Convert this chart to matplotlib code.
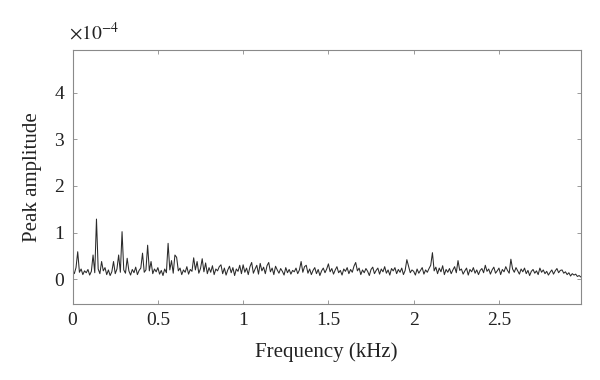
import numpy as np
import matplotlib
matplotlib.use("Agg")
import matplotlib.pyplot as plt

plt.rcParams['font.family'] = ['Liberation Serif', 'DejaVu Serif']
plt.rcParams['mathtext.fontset'] = 'stix'

# Peak amplitude (x 1e-4), one value per 0.01 kHz from 0 to 2.98 kHz
amplitude = [
    0.20, 0.12, 0.25, 0.59, 0.15, 0.22, 0.10, 0.18, 0.14, 0.21,
    0.09, 0.17, 0.52, 0.14, 1.29, 0.22, 0.12, 0.38, 0.18, 0.25,
    0.10, 0.20, 0.08, 0.16, 0.38, 0.12, 0.22, 0.52, 0.15, 1.02,
    0.20, 0.13, 0.45, 0.18, 0.09, 0.21, 0.14, 0.26, 0.10, 0.19,
    0.24, 0.56, 0.15, 0.20, 0.73, 0.18, 0.38, 0.12, 0.22, 0.16,
    0.25, 0.11, 0.19, 0.08, 0.22, 0.14, 0.77, 0.20, 0.40, 0.13,
    0.52, 0.47, 0.18, 0.24, 0.10, 0.20, 0.15, 0.27, 0.11, 0.21,
    0.17, 0.46, 0.20, 0.38, 0.13, 0.23, 0.44, 0.16, 0.35, 0.12,
    0.25, 0.15, 0.29, 0.10, 0.22, 0.18, 0.27, 0.31, 0.12, 0.24,
    0.09, 0.20, 0.28, 0.14, 0.25, 0.08, 0.22, 0.17, 0.30, 0.12,
    0.31, 0.15, 0.24, 0.10, 0.27, 0.36, 0.13, 0.22, 0.30, 0.11,
    0.34, 0.18, 0.26, 0.12, 0.29, 0.36, 0.16, 0.24, 0.10, 0.28,
    0.20, 0.13, 0.23, 0.17, 0.09, 0.25, 0.14, 0.21, 0.11, 0.19,
    0.16, 0.24, 0.12, 0.20, 0.38, 0.15, 0.27, 0.30, 0.13, 0.22,
    0.10, 0.19, 0.25, 0.12, 0.21, 0.08, 0.18, 0.24, 0.14, 0.22,
    0.33, 0.16, 0.23, 0.11, 0.20, 0.27, 0.14, 0.19, 0.09, 0.22,
    0.17, 0.25, 0.12, 0.21, 0.15, 0.28, 0.36, 0.18, 0.24, 0.10,
    0.20, 0.14, 0.23, 0.17, 0.08, 0.21, 0.26, 0.12, 0.19, 0.24,
    0.11, 0.22, 0.16, 0.27, 0.13, 0.20, 0.09, 0.23, 0.18, 0.25,
    0.12, 0.21, 0.15, 0.24, 0.10, 0.19, 0.42, 0.28, 0.14, 0.20,
    0.17, 0.09, 0.22, 0.13, 0.19, 0.25, 0.11, 0.20, 0.15, 0.23,
    0.30, 0.57, 0.18, 0.26, 0.12, 0.24, 0.16, 0.29, 0.10, 0.21,
    0.15, 0.23, 0.12, 0.20, 0.27, 0.14, 0.40, 0.19, 0.22, 0.11,
    0.18, 0.24, 0.09, 0.21, 0.16, 0.25, 0.13, 0.20, 0.10, 0.19,
    0.23, 0.14, 0.30, 0.17, 0.22, 0.11, 0.20, 0.26, 0.13, 0.18,
    0.24, 0.10, 0.21, 0.16, 0.27, 0.19, 0.13, 0.43, 0.22, 0.15,
    0.25, 0.18, 0.11, 0.22, 0.16, 0.24, 0.12, 0.19, 0.08, 0.17,
    0.21, 0.13, 0.18, 0.10, 0.24, 0.15, 0.20, 0.12, 0.17, 0.09,
    0.15, 0.20, 0.11, 0.18, 0.23, 0.14, 0.19, 0.20, 0.13, 0.16,
    0.10, 0.14, 0.07, 0.12, 0.09, 0.11, 0.06, 0.08, 0.05,
]
frequency_khz = np.linspace(0.0, 2.98, len(amplitude))

x_ticks = [0, 0.5, 1, 1.5, 2, 2.5]
x_ticklabels = ["0", "0.5", "1", "1.5", "2", "2.5"]
y_ticks = [0, 1, 2, 3, 4]
y_ticklabels = ["0", "1", "2", "3", "4"]

fig = plt.figure(figsize=(6, 3.8), dpi=100)
ax = fig.add_axes([0.121, 0.2, 0.847, 0.668])
ax.plot(frequency_khz, amplitude, color='#2a2a2a', lw=0.75)

ax.set_xlim(0, 2.98)
ax.set_ylim(-0.53, 4.91)
ax.set_xticks(x_ticks)
ax.set_xticklabels(x_ticklabels)
ax.set_yticks(y_ticks)
ax.set_yticklabels(y_ticklabels)

for s in ax.spines.values():
    s.set_color('#8a8a8a')
    s.set_linewidth(0.8)
ax.tick_params(direction='in', length=3, width=0.6, color='#8a8a8a',
               top=True, right=True, labelsize=14, labelcolor='#222222', pad=6)

ax.set_xlabel("Frequency (kHz)", fontsize=15, color='#222222', labelpad=9)
ax.set_ylabel("Peak amplitude", fontsize=15, color='#222222', labelpad=9)
fig.text(0.115, 0.885, r"$\times10^{-4}$", fontsize=14, color='#222222',
         ha='left', va='bottom')

fig.savefig("out.png", dpi=100)
